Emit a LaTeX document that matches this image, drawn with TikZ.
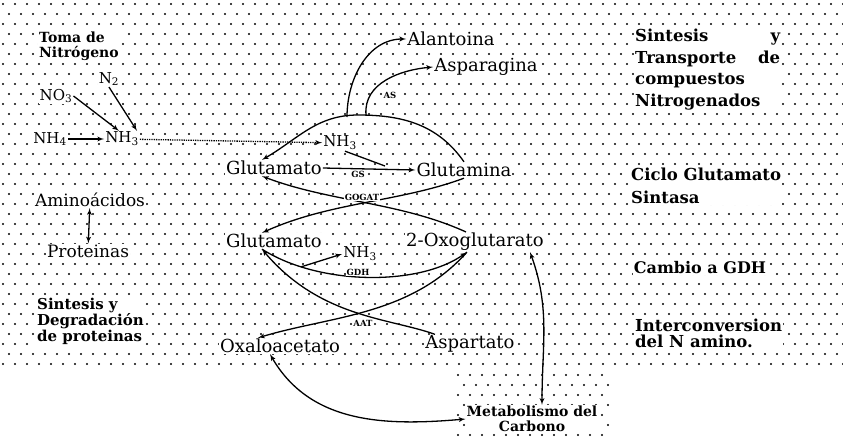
\documentclass[tikz,border=0pt]{standalone}
\usepackage{fontspec}
\setmainfont{DejaVu Serif}
\usetikzlibrary{arrows}

\tikzset{
  lbl/.style={font=\fontsize{18}{20}\selectfont, inner sep=1pt, fill=white},
  small/.style={font=\fontsize{15}{17}\selectfont, inner sep=1pt, fill=white},
  note/.style={font=\fontsize{16.5}{21.5}\selectfont\bfseries, inner sep=1pt, fill=white, align=left},
  enz/.style={font=\fontsize{8.5}{9}\selectfont\bfseries, inner sep=0.5pt, fill=white},
  flow/.style={->, >=latex', line width=1.3pt},
}

\begin{document}
\begin{tikzpicture}[x=1pt, y=-1pt]
      \useasboundingbox (0,0) rectangle (843,442);
      % stippled background
      \foreach \j in {0,...,36}
        \foreach \i in {0,...,70}
          \fill ({\i*12+mod(\j,2)*6+3},{\j*10+4}) circle [radius=1.05pt];
      \foreach \j in {0,...,6}
        \foreach \i in {0,...,12}
          \fill ({\i*12+mod(\j,2)*6+458},{\j*10+375}) circle [radius=1.05pt];

      % nitrogen uptake
      \node [note, anchor=north west, font=\fontsize{14}{15}\selectfont\bfseries] (toma) at (38,31) {Toma de\\Nitrógeno};
      \node [small] (no3) at (56,96) {NO\textsubscript{3}};
      \node [small] (n2) at (109,79) {N\textsubscript{2}};
      \node [small] (nh4) at (50,139) {NH\textsubscript{4}};
      \node [small] (nh3a) at (122,139) {NH\textsubscript{3}};
      \draw [flow] (nh4) -- (nh3a);
      \draw [flow] (no3.east) -- ([xshift=-3pt]nh3a.north);
      \draw [flow] (n2.south) -- ([xshift=15pt]nh3a.north);

      % amino acids
      \node [small, font=\fontsize{17}{19}\selectfont] (amino) at (90,200) {Aminoácidos};
      \node [small, font=\fontsize{17}{19}\selectfont] (prot) at (88,251) {Proteinas};
      \draw [flow, <->] (amino) -- (prot);
      \node [note, anchor=north west, font=\fontsize{15}{14.5}\selectfont\bfseries] (sint) at (36,297) {Sintesis y\\Degradación\\de proteinas};

      % central pathway
      \node [small] (nh3b) at (340,143) {NH\textsubscript{3}};
      \node [lbl] (alan) at (451,39) {Alantoina};
      \node [lbl] (aspg) at (486,67) {Asparagina};
      \node [lbl] (glu1) at (274,168) {Glutamato};
      \node [lbl] (gln) at (464,170) {Glutamina};
      \node [lbl] (glu2) at (274,241) {Glutamato};
      \node [lbl] (oxo) at (475,242) {2-Oxoglutarato};
      \node [small] (nh3c) at (360,254) {NH\textsubscript{3}};
      \node [lbl] (oxa) at (280,346) {Oxaloacetato};
      \node [lbl] (asp) at (470,344) {Aspartato};
      \node [note, align=center, font=\fontsize{14}{15}\selectfont\bfseries] (met) at (532,419) {Metabolismo del\\Carbono};

      \draw [flow, densely dotted] (nh3a) -- (nh3b);

      % glutamine arc and exports
      \coordinate (top) at (358,115);
      \coordinate (brA) at (347,117);
      \coordinate (brB) at (366,115);
      \draw [flow] (gln.north) to [out=125,in=0] (top) to [out=180,in=30] ([xshift=-12pt]glu1.north);
      \draw [flow] (brA) to [out=90,in=180] (alan.west);
      \draw [flow] (brB) to [out=95,in=185] (aspg.west);
      \node [enz] (as) at (390,95) {AS};

      % GS
      \coordinate (gsj) at (385,166);
      \draw [flow] (glu1.east) -- (gln.west);
      \draw [line width=1.3pt] ([xshift=5pt]nh3b.south) -- (gsj);
      \node [enz] (gs) at (358,174) {GS};

      % GOGAT
      \draw [flow] (gln.south) .. controls (400,202) and (330,202) .. ([xshift=-12pt]glu2.north);
      \draw [flow] ([xshift=-9pt]oxo.north) .. controls (400,202) and (330,202) .. ([xshift=-12pt]glu1.south);
      \node [enz] (gogat) at (362,197) {GOGAT};

      % GDH
      \draw [flow] ([xshift=-12pt]glu2.south) .. controls (320,286) and (420,286) .. ([xshift=-8pt]oxo.south)
        coordinate [pos=0.2] (gdhb);
      \draw [flow] (gdhb) -- (nh3c.west);
      \node [enz] (gdh) at (358,272) {GDH};

      % AAT
      \draw [flow] ([xshift=-35pt]asp.north) .. controls (390,318) and (320,318) .. ([xshift=-12pt]glu2.south);
      \draw [flow] ([xshift=-8pt]oxo.south) .. controls (410,316) and (330,316) .. ([xshift=-22pt]oxa.north);
      \node [enz] (aat) at (363,323) {AAT};

      % carbon metabolism
      \draw [flow, <->] ([xshift=55pt]oxo.south) to [out=-70,in=90] ([xshift=10pt]met.north);
      \draw [flow, <->] ([xshift=-10pt]oxa.south) to [out=-60,in=185] (met.west);

      % right hand notes
      \node [note, text width=145pt, anchor=north west] (synth) at (634,28)
        {Sintesis\hfill y\\Transporte\hfill de\\compuestos\\Nitrogenados};
      \node [note, anchor=north west, font=\fontsize{16.5}{23}\selectfont\bfseries] (ciclo) at (630,167) {Ciclo Glutamato\\Sintasa};
      \node [note, font=\fontsize{16}{18}\selectfont\bfseries] (cambio) at (700,268) {Cambio a GDH};
      \node [note, anchor=north west, font=\fontsize{16.5}{16}\selectfont\bfseries] (inter) at (634,318) {Interconversion\\del N amino.};
\end{tikzpicture}
\end{document}
